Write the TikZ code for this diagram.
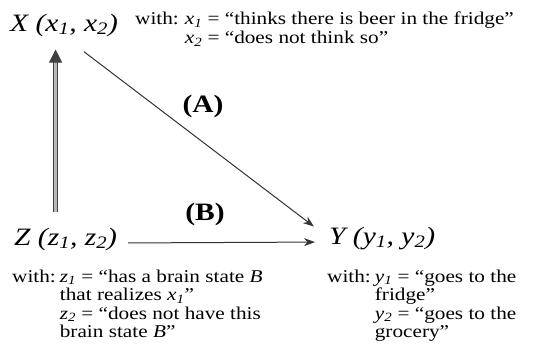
\documentclass[tikz,border=0pt]{standalone}
\usepackage{fontspec}
\setmainfont{Liberation Serif}[FakeStretch=1.18]
\usetikzlibrary{arrows.meta,positioning}

\newcommand{\vsub}[2]{\textit{#1}\textsubscript{\textit{#2}}}

\tikzset{
  var/.style={inner sep=0pt, font=\fontsize{25}{27}\selectfont\itshape},
  with/.style={inner sep=0pt, align=left, font=\fontsize{18}{18.5}\selectfont},
  lbl/.style={inner sep=0pt, font=\fontsize{25}{27}\selectfont\bfseries},
  thinarrow/.style={line width=1pt, black!80, -{Stealth[length=11pt,width=8pt]}},
  thickarrow/.style={line width=1pt, black!75, double=gray!55, double distance=2.5pt, -{Triangle[length=13pt,width=13pt]}}
}

\begin{document}
\begin{tikzpicture}[x=1pt, y=-1pt]
  \useasboundingbox (0,0) rectangle (534,345);

  % variables
  \node[var, anchor=base west] (X) at (10,31) {X (x\textsubscript{1}, x\textsubscript{2})};
  \node[var, anchor=base west] (Z) at (14,245) {Z (z\textsubscript{1}, z\textsubscript{2})};
  \node[var, anchor=base west] (Y) at (329,244) {Y (y\textsubscript{1}, y\textsubscript{2})};

  % values
  \node[with, anchor=base west] (withX) at (135,25) {\begin{tabular}[t]{@{}l@{\hspace{6pt}}l@{}}
    with: & \vsub{x}{1} = “thinks there is beer in the fridge”\\
          & \vsub{x}{2} = “does not think so”
  \end{tabular}};
  \node[with, anchor=base west] (withZ) at (12,282) {\begin{tabular}[t]{@{}l@{\hspace{4pt}}l@{}}
    with: & \vsub{z}{1} = “has a brain state \textit{B}\\
          & that realizes \vsub{x}{1}”\\
          & \vsub{z}{2} = “does not have this\\
          & brain state \textit{B}”
  \end{tabular}};
  \node[with, anchor=base west] (withY) at (327,282) {\begin{tabular}[t]{@{}l@{\hspace{4pt}}l@{}}
    with: & \vsub{y}{1} = “goes to the\\
          & fridge”\\
          & \vsub{y}{2} = “goes to the\\
          & grocery”
  \end{tabular}};

  % arrows
  \draw[thickarrow, shorten <=15pt, shorten >=13pt] ([xshift=-10pt]Z.north) -- ([xshift=-10pt]Z.north |- X.south);
  \draw[thinarrow, shorten <=25pt, shorten >=19pt] (X.south) -- (Y.west);
  \draw[thinarrow, shorten <=11pt, shorten >=14pt] ([yshift=2pt]Z.base east) -- ([yshift=2pt]Y.base west);

  \node[lbl] (A) at (203,106) {(A)};
  \node[lbl] (B) at (205,214) {(B)};
\end{tikzpicture}
\end{document}
